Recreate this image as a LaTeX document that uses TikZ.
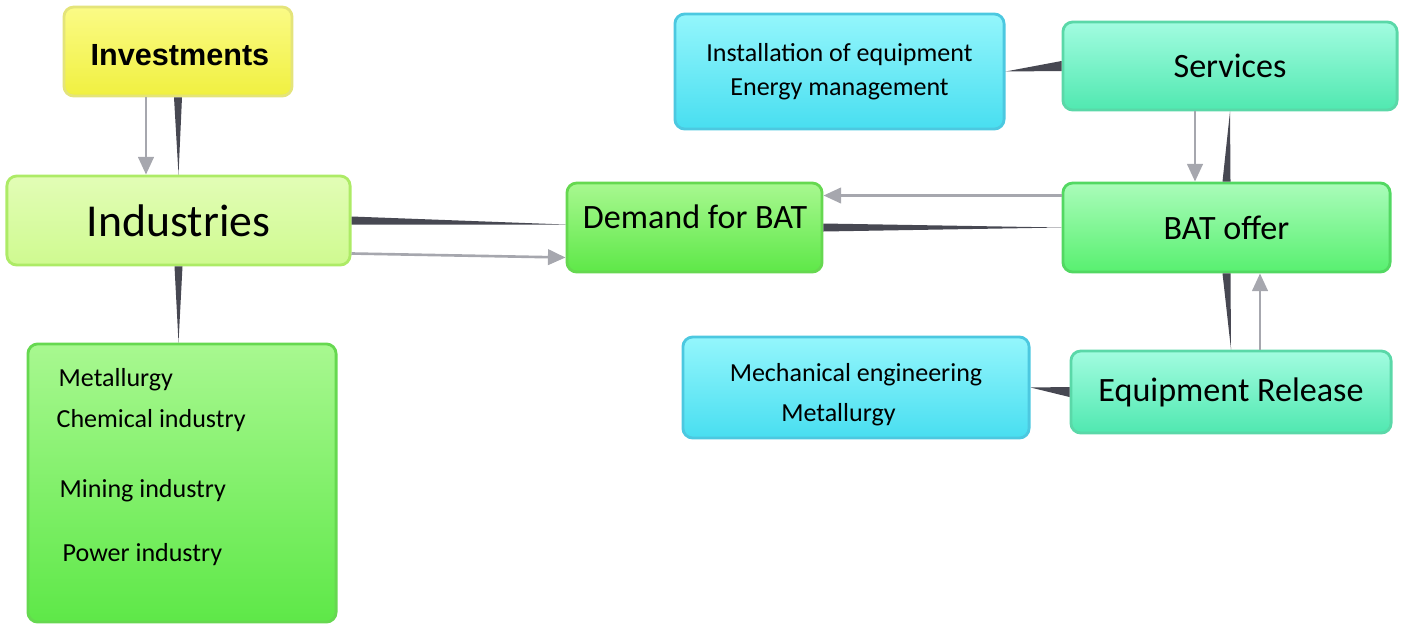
\documentclass[tikz,border=0pt]{standalone}
\usepackage{fontspec}
\setmainfont{Carlito}
\newfontfamily\headfont{Liberation Sans}
\usetikzlibrary{calc,arrows.meta}

\definecolor{wedgegray}{HTML}{474852}
\definecolor{flowgray}{HTML}{A6A7AE}
\definecolor{yelTop}{HTML}{FBFB86}
\definecolor{yelBot}{HTML}{F0F040}
\definecolor{yelLine}{HTML}{E4E47A}
\definecolor{limeTop}{HTML}{E2FDB6}
\definecolor{limeBot}{HTML}{CFFA90}
\definecolor{limeLine}{HTML}{ADEB66}
\definecolor{grnTop}{HTML}{A8F890}
\definecolor{grnBot}{HTML}{5EE848}
\definecolor{grnLine}{HTML}{66D850}
\definecolor{cyTop}{HTML}{94F6FC}
\definecolor{cyBot}{HTML}{48DEF0}
\definecolor{cyLine}{HTML}{4CC8E0}
\definecolor{tlTop}{HTML}{A2FCE0}
\definecolor{tlBot}{HTML}{50E8B0}
\definecolor{tlLine}{HTML}{5AD8A8}
\definecolor{batTop}{HTML}{AAFCBA}
\definecolor{batBot}{HTML}{58F070}
\definecolor{batLine}{HTML}{52D862}

\tikzset{
  box/.style={rounded corners=2.8pt, line width=0.8pt, inner sep=0pt},
  yelbox/.style={box, draw=yelLine, top color=yelTop, bottom color=yelBot},
  limebox/.style={box, draw=limeLine, top color=limeTop, bottom color=limeBot},
  grnbox/.style={box, draw=grnLine, top color=grnTop, bottom color=grnBot},
  cybox/.style={box, draw=cyLine, top color=cyTop, bottom color=cyBot},
  tlbox/.style={box, draw=tlLine, top color=tlTop, bottom color=tlBot},
  batbox/.style={box, draw=batLine, top color=batTop, bottom color=batBot},
  wedge/.style={fill=wedgegray, draw=none},
  flow/.style={draw=flowgray, line width=0.75pt, -{Triangle[length=5pt,width=4.4pt]}},
  bigtxt/.style={font=\fontsize{9.7}{11}\selectfont},
  smalltxt/.style={font=\fontsize{7.4}{9}\selectfont},
}

\begin{document}
\begin{tikzpicture}[x=0.01cm, y=-0.01cm]
  \useasboundingbox (0,0) rectangle (1418,642);

  % boxes
  \node[yelbox, minimum width=2.28cm, minimum height=0.89cm] (inv) at (178,51.5) {};
  \node[font=\headfont\bfseries\fontsize{8.7}{10}\selectfont] (invt) at (180,55) {Investments};
  \node[limebox, minimum width=3.43cm, minimum height=0.89cm,
        font=\fontsize{13}{15}\selectfont] (ind) at (178.5,220.5) {Industries};
  \node[grnbox, minimum width=3.08cm, minimum height=2.78cm] (lst) at (182,483) {};
  \node[smalltxt, anchor=west, inner sep=0pt] (l1) at (58,380) {Metallurgy};
  \node[smalltxt, anchor=west, inner sep=0pt] (l2) at (56,421) {Chemical industry};
  \node[smalltxt, anchor=west, inner sep=0pt] (l3) at (59,491) {Mining industry};
  \node[smalltxt, anchor=west, inner sep=0pt] (l4) at (62,555) {Power industry};

  \node[grnbox, minimum width=2.55cm, minimum height=0.89cm] (dem) at (694.5,227.5) {};
  \node[bigtxt] (demt) at (695,217) {Demand for BAT};

  \node[cybox, minimum width=3.29cm, minimum height=1.15cm, smalltxt, align=center]
       (inst) at (839.5,71.5) {Installation of equipment\\[0.8pt]Energy management};
  \node[tlbox, minimum width=3.34cm, minimum height=0.88cm, bigtxt] (svc) at (1230,66) {Services};
  \node[batbox, minimum width=3.27cm, minimum height=0.89cm, bigtxt] (bat) at (1226.5,227.5) {BAT offer};
  \node[cybox, minimum width=3.46cm, minimum height=1.01cm, smalltxt, align=center]
       (mech) at (856,387.5) {\rule{0pt}{9pt}Mechanical engineering\\[2.4pt]\hspace*{-10pt}Metallurgy};
  \node[tlbox, minimum width=3.20cm, minimum height=0.82cm, bigtxt] (eqr) at (1231,392) {Equipment Release};

  % dark wedges
  \fill[wedge] ($(inv.south)+(-4,0)$) -- ($(inv.south)+(4,0)$) -- (ind.north) -- cycle;
  \fill[wedge] ($(ind.south)+(-4,0)$) -- ($(ind.south)+(4,0)$) -- (lst.north -| ind.south) -- cycle;
  \fill[wedge] ($(ind.east)+(0,-4)$) -- ($(ind.east)+(0,4)$) -- ($(dem.west)+(0,-3)$) -- cycle;
  \fill[wedge] ($(dem.east)+(0,-4)$) -- ($(dem.east)+(0,4)$) -- (bat.west) -- cycle;
  \fill[wedge] ($(bat.north)+(-4,0)$) -- ($(bat.north)+(4,0)$) -- (svc.south) -- cycle;
  \fill[wedge] ($(bat.south)+(-4,0)$) -- ($(bat.south)+(4,0)$) -- (eqr.north) -- cycle;
  \fill[wedge] ($(svc.west)+(0,-5)$) -- ($(svc.west)+(0,5)$) -- (inst.east) -- cycle;
  \fill[wedge] ($(eqr.west)+(0,-5)$) -- ($(eqr.west)+(0,5)$) -- (mech.east) -- cycle;

  % grey arrows
  \draw[flow] ($(inv.south)+(-32,0)$) coordinate (a1) -- (a1 |- ind.north);
  \draw[flow] ($(ind.east)+(0,33)$) -- ($(dem.west)+(0,30)$);
  \draw[flow] ($(bat.west)+(0,-32)$) coordinate (a2) -- (a2 -| dem.east);
  \draw[flow] ($(svc.south)+(-35,0)$) coordinate (a3) -- (a3 |- bat.north);
  \draw[flow] ($(eqr.north)+(29,0)$) coordinate (a4) -- (a4 |- bat.south);
\end{tikzpicture}
\end{document}
